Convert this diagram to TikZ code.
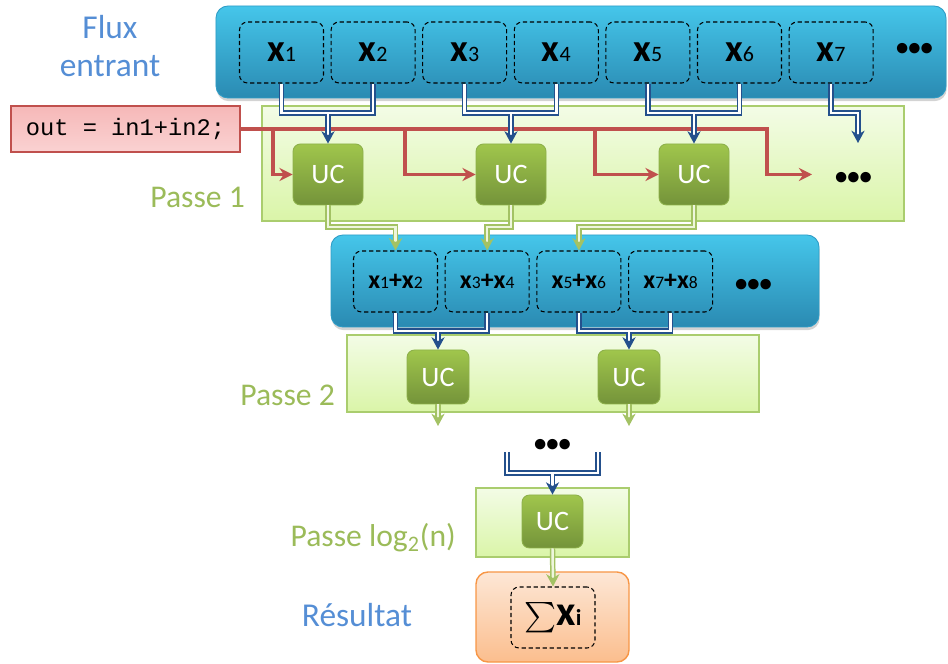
\documentclass[tikz,border=0pt]{standalone}
\usepackage{amsmath}
\usepackage{fontspec}
\setmainfont{Carlito}
\setmonofont{Liberation Mono}
\usetikzlibrary{arrows.meta, positioning, calc, shadows}

\definecolor{barTop}{HTML}{45C6EA}
\definecolor{barBot}{HTML}{2A8AB2}
\definecolor{barEdge}{HTML}{2E9CC6}
\definecolor{passTop}{HTML}{F3FCE6}
\definecolor{passBot}{HTML}{DAF5A8}
\definecolor{passEdge}{HTML}{AACD6E}
\definecolor{ucTop}{HTML}{A0C64C}
\definecolor{ucBot}{HTML}{74933A}
\definecolor{ucEdge}{HTML}{8DB04A}
\definecolor{txtGreen}{HTML}{9BBB59}
\definecolor{txtBlue}{HTML}{558ED5}
\definecolor{pipeBlue}{HTML}{24508C}
\definecolor{pipeGreen}{HTML}{A3C264}
\definecolor{pipeGreenIn}{HTML}{EEF6DC}
\definecolor{codeRed}{HTML}{C0504D}
\definecolor{codeTop}{HTML}{F6B8B8}
\definecolor{codeBot}{HTML}{FAD2D2}
\definecolor{resTop}{HTML}{FDE7D6}
\definecolor{resBot}{HTML}{FBBE8E}
\definecolor{resEdge}{HTML}{F79646}

% x_i in the input stream, and x_a+x_b after the first pass
\newcommand{\xin}[1]{{\fontsize{22}{22}\selectfont\bfseries x}{\fontsize{12.5}{12.5}\selectfont #1}}
\newcommand{\xsum}[2]{\fontsize{14.7}{15}\selectfont\bfseries
  x{\fontsize{10}{10}\selectfont\mdseries #1}+x{\fontsize{10}{10}\selectfont\mdseries #2}}

\begin{document}
\begin{tikzpicture}[
    x=0.2mm, y=-0.2mm,
    streambar/.style={rounded corners=2.4mm, top color=barTop, bottom color=barBot,
      draw=barEdge, line width=0.5pt,
      drop shadow={shadow xshift=0.4pt, shadow yshift=-1.8pt, opacity=0.35}},
    itembox/.style={draw=black, dash pattern=on 2.4pt off 1.6pt, line width=0.6pt,
      rounded corners=1.6mm, minimum width=16.8mm, minimum height=12.2mm, inner sep=0pt},
    passbox/.style={draw=passEdge, line width=0.9pt, top color=passTop, bottom color=passBot},
    ucbox/.style={rounded corners=1.5mm, top color=ucTop, bottom color=ucBot, draw=ucEdge,
      line width=0.5pt, text=white, font=\fontsize{16}{16}\selectfont,
      minimum width=14mm, minimum height=12.2mm, inner sep=0pt},
    codebox/.style={draw=codeRed, line width=0.7pt, top color=codeTop, bottom color=codeBot,
      minimum width=45.8mm, minimum height=9.2mm, font=\ttfamily\fontsize{13.5}{14}\selectfont},
    resbox/.style={draw=resEdge, line width=0.8pt, rounded corners=2.4mm,
      top color=resTop, bottom color=resBot, minimum width=30.6mm, minimum height=18mm},
    bluepipe/.style={draw=pipeBlue, double=white, double distance=1.4pt, line width=0.85pt,
      -{Stealth[length=7pt, width=7.5pt, inset=2.2pt]}},
    greenpipe/.style={draw=pipeGreen, double=pipeGreenIn, double distance=1.4pt, line width=0.85pt,
      -{Stealth[length=7pt, width=7.5pt, inset=2.2pt]}},
    redarrow/.style={draw=codeRed, line width=2pt,
      -{Stealth[length=7.5pt, width=7.5pt, inset=2.5pt]}},
    passlabel/.style={text=txtGreen, font=\fontsize{18}{18}\selectfont},
    flowlabel/.style={text=txtBlue, font=\fontsize{19}{22}\selectfont},
    dotlabel/.style={font=\fontsize{14}{15}\selectfont\bfseries, inner sep=0pt},
  ]
  \useasboundingbox (0,0) rectangle (948,664);

  %%% ---------------- input stream ---------------- %%%
  \node[streambar, minimum width=146mm, minimum height=18.4mm] (bar1) at (581,52) {};
  \foreach \i in {1,...,7}
    \node[itembox] (x\i) at ({281.5+91.6*(\i-1)},52.5) {\xin{\i}};
  \node[dotlabel] (dots1) at (914.5,49) {•••};
  \node[flowlabel, align=center] (flux) at (110,46) {Flux\\entrant};

  %%% ---------------- pass 1 ---------------- %%%
  \node[passbox, minimum width=128.4mm, minimum height=23mm] (pass1) at (583,163.5) {};
  \node[passlabel, anchor=east] (lab1) at (251,197) {Passe 1};
  \node[codebox] (code) at (125.5,129) {out = in1+in2;};
  \foreach \i/\cx in {1/328, 2/511, 3/694}
    \node[ucbox] (uc\i) at (\cx,174.5) {UC};
  \node[dotlabel] (dots2) at (853.5,178) {•••};

  % kernel broadcast to every unit
  \coordinate (b1) at (273,129);
  \coordinate (b2) at (405,129);
  \coordinate (b3) at (595,129);
  \coordinate (t4) at (812,174.5);
  \draw[redarrow] (code.east) -| ($(t4)+(-45,0)$) -- (t4);
  \foreach \i in {1,2,3}
    \draw[redarrow] (b\i) |- (uc\i.west);

  % pairs of inputs into each unit
  \coordinate (row1) at (0,113);
  \draw[bluepipe] (x1.south) |- (uc1.north |- row1) -| (x2.south) (uc1.north |- row1) -- (uc1.north);
  \draw[bluepipe] (x3.south) |- (uc2.north |- row1) -| (x4.south) (uc2.north |- row1) -- (uc2.north);
  \draw[bluepipe] (x5.south) |- (uc3.north |- row1) -| (x6.south) (uc3.north |- row1) -- (uc3.north);
  \coordinate (t7) at (858,143);
  \draw[bluepipe] (x7.south) |- (t7 |- row1) -- (t7);

  %%% ---------------- partial sums ---------------- %%%
  \node[streambar, minimum width=97.6mm, minimum height=18.4mm] (bar2) at (575,281) {};
  \foreach \i [evaluate=\i as \a using int(2*\i-1), evaluate=\i as \b using int(2*\i)] in {1,...,4}
    \node[itembox] (s\i) at ({395.5+91.7*(\i-1)},281.5) {\xsum{\a}{\b}};
  \node[dotlabel] (dots3) at (753.5,285) {•••};

  \coordinate (row2) at (0,227);
  \foreach \i in {1,2,3}
    \draw[greenpipe] (uc\i.south) |- (s\i.north |- row2) -- (s\i.north);

  %%% ---------------- pass 2 ---------------- %%%
  \node[passbox, minimum width=82.4mm, minimum height=15.4mm] (pass2) at (553,373.5) {};
  \node[passlabel, anchor=east] (lab2) at (341,395) {Passe 2};
  \node[ucbox, minimum width=12.4mm, minimum height=10.8mm] (ucb1) at (438,377) {UC};
  \node[ucbox, minimum width=12.4mm, minimum height=10.8mm] (ucb2) at (629,377) {UC};

  \coordinate (row3) at (0,331);
  \draw[bluepipe] (s1.south) |- (ucb1.north |- row3) -| (s2.south) (ucb1.north |- row3) -- (ucb1.north);
  \draw[bluepipe] (s3.south) |- (ucb2.north |- row3) -| (s4.south) (ucb2.north |- row3) -- (ucb2.north);

  \coordinate (row4) at (0,426);
  \draw[greenpipe] (ucb1.south) -- (ucb1.south |- row4);
  \draw[greenpipe] (ucb2.south) -- (ucb2.south |- row4);

  %%% ---------------- last pass ---------------- %%%
  \node[dotlabel] (dots4) at (552.5,445) {•••};
  \node[passbox, minimum width=30.6mm, minimum height=13.8mm] (passn) at (552.5,522.5) {};
  \node[passlabel, anchor=east] (labn) at (462,538) {Passe log\textsubscript{2}(n)};
  \node[ucbox, minimum width=12.2mm, minimum height=10.6mm] (ucn) at (552.5,521.5) {UC};

  \coordinate (l5) at (507,452);
  \coordinate (r5) at (598,452);
  \coordinate (row5) at (0,473);
  \draw[bluepipe] (l5) |- (ucn.north |- row5) -| (r5) (ucn.north |- row5) -- (ucn.north);

  %%% ---------------- result ---------------- %%%
  \node[resbox] (res) at (552.5,617) {};
  \node[itembox] (sum) at (553,617.5)
    {{\fontsize{18}{18}\selectfont$\sum$}{\fontsize{24}{24}\selectfont\bfseries x}{\fontsize{13}{13}\selectfont\bfseries i}};
  \node[flowlabel] (lres) at (357,615) {Résultat};
  \draw[greenpipe] (ucn.south) -- (sum.north);

\end{tikzpicture}
\end{document}
